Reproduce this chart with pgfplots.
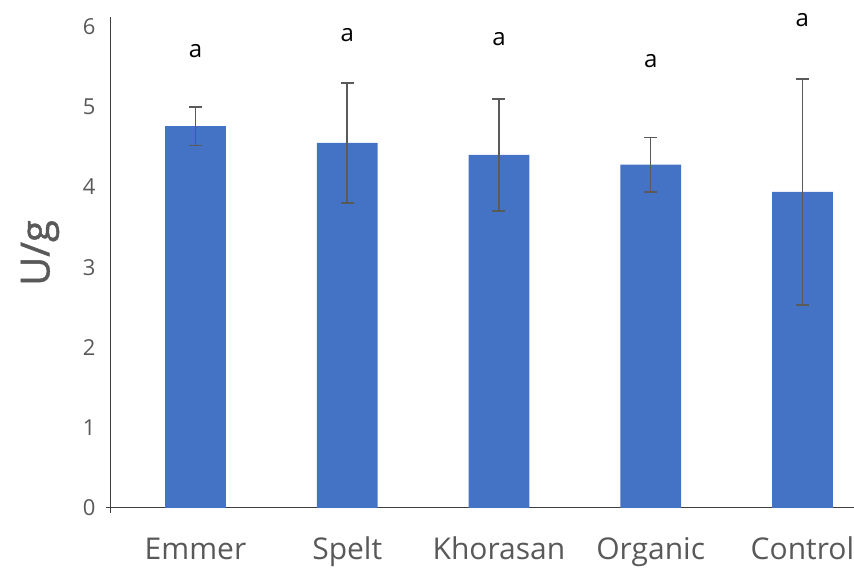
\documentclass[border=0pt]{standalone}
\usepackage{pgfplots}
\pgfplotsset{compat=1.18}
\usepackage{fontspec}
\setmainfont{Open Sans}
\definecolor{barblue}{HTML}{4472C4}
\definecolor{txtgray}{HTML}{595959}
\definecolor{errgray}{HTML}{5A5A5A}
\begin{document}
\begin{tikzpicture}[x=1pt,y=1pt]
\begin{axis}[
  at={(0,0)}, anchor=south west,
  scale only axis,
  width=743pt, height=491pt,
  xmin=-0.557, xmax=4.34,
  ymin=0, ymax=6.12,
  axis x line=bottom, axis y line=left,
  axis line style={-, color=black!75, line width=1pt},
  xtick=data,
  xticklabels={Emmer, Spelt, Khorasan, Organic, Control},
  ytick={0,1,2,3,4,5,6},
  major tick length=0pt,
  tick label style={color=txtgray},
  yticklabel style={font=\fontsize{22}{26}\selectfont, xshift=-12pt},
  xticklabel style={font=\fontsize{30}{35}\selectfont, anchor=north, text height=22pt, text depth=7pt, yshift=-26pt},
  /pgf/number format/assume math mode=true,
  ybar, bar width=0.4,
  clip=false,
]
\addplot[fill=barblue, draw=none,
  error bars/.cd, y dir=both, y explicit,
  error bar style={color=errgray, line width=1.5pt},
  error mark options={rotate=90, mark size=6.5pt, line width=1.5pt, color=errgray}]
  coordinates {
  (0,4.76) +- (0,0.24)
  (1,4.55) +- (0,0.75)
  (2,4.40) +- (0,0.70)
  (3,4.28) +- (0,0.34)
  (4,3.94) +- (0,1.41)
  };
\node[font=\fontsize{24}{28}\selectfont] at (axis cs:0,5.69) {a};
\node[font=\fontsize{24}{28}\selectfont] at (axis cs:1,5.90) {a};
\node[font=\fontsize{24}{28}\selectfont] at (axis cs:2,5.84) {a};
\node[font=\fontsize{24}{28}\selectfont] at (axis cs:3,5.57) {a};
\node[font=\fontsize{24}{28}\selectfont] at (axis cs:4,6.08) {a};
\end{axis}
\draw[color=black!75, line width=1pt] (0,0) -- (-5,0);
\draw[color=black!75, line width=1pt] (0,0) -- (0,-5);
\node[rotate=90, color=txtgray, font=\addfontfeature{FakeBold=1.2}\fontsize{40}{46}\selectfont] at (-71,255) {U/g};
\pgfresetboundingbox
\path[use as bounding box] (-111,-64) rectangle (743,508);
\end{tikzpicture}
\end{document}
